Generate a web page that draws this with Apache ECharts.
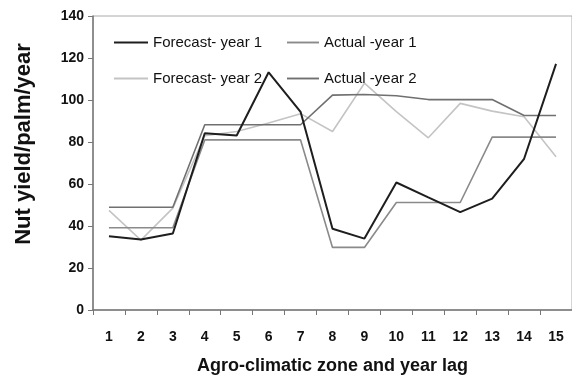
<!DOCTYPE html>
<html>
<head>
<meta charset="utf-8">
<script src="https://cdn.jsdelivr.net/npm/echarts@6/dist/echarts.min.js"></script>
<style>html,body{margin:0;padding:0;background:#fff}#c{width:572px;height:380px}</style>
</head>
<body>
<div id="c"></div>
<script>
var categories = ['1','2','3','4','5','6','7','8','9','10','11','12','13','14','15'];
var forecastYear1 = [35.1, 33.6, 36.4, 84.2, 83.1, 113.2, 94.4, 38.7, 34.0, 60.7, 53.6, 46.6, 53.0, 72.0, 117.2];
var actualYear1   = [39.2, 39.2, 39.2, 81.0, 81.0, 81.0, 81.0, 29.8, 29.8, 51.2, 51.2, 51.2, 82.3, 82.3, 82.3];
var forecastYear2 = [47.4, 33.3, 48.5, 83.0, 85.0, 89.0, 93.5, 85.0, 108.0, 94.5, 82.0, 98.4, 94.7, 92.0, 73.0];
var actualYear2   = [48.9, 48.9, 48.9, 88.2, 88.2, 88.2, 88.2, 102.3, 102.6, 102.0, 100.2, 100.2, 100.2, 92.6, 92.6];
var yTicks = [0, 20, 40, 60, 80, 100, 120, 140];
var names = ['Forecast- year 1', 'Actual -year 1', 'Forecast- year 2', 'Actual -year 2'];

var chart = echarts.init(document.getElementById('c'), null, {renderer: 'canvas'});
var font = 'Liberation Sans, Arial, sans-serif';
var legendText = {fontFamily: font, fontSize: 15, color: '#111'};
var lineIcon = 'path://M0,0L34,0L34,2L0,2Z';
chart.setOption({
  animation: false,
  backgroundColor: '#ffffff',
  grid: {left: 93, right: -4, top: 16, bottom: 65, show: true, borderColor: '#aaaaaa', borderWidth: 1, backgroundColor: '#ffffff'},
  legend: [
    {data: [names[0], names[2]], orient: 'vertical', left: 109, top: 30, itemWidth: 34, itemHeight: 2, itemGap: 21,
     icon: lineIcon, textStyle: legendText},
    {data: [names[1], names[3]], orient: 'vertical', left: 282, top: 30, itemWidth: 32, itemHeight: 2, itemGap: 21,
     icon: lineIcon, textStyle: legendText}
  ],
  xAxis: {
    type: 'category', data: categories, boundaryGap: true,
    name: 'Agro-climatic zone and year lag', nameLocation: 'middle', nameGap: 47,
    nameTextStyle: {fontFamily: font, fontSize: 18, fontWeight: 'bold', color: '#111'},
    axisLine: {lineStyle: {color: '#777', width: 1.5}},
    axisTick: {show: true, inside: false, length: 5, alignWithLabel: false, lineStyle: {color: '#777'}},
    axisLabel: {fontFamily: font, fontSize: 14, fontWeight: 'bold', color: '#111', margin: 20}
  },
  yAxis: {
    type: 'value', min: 0, max: 140, interval: 20,
    name: 'Nut yield/palm/year', nameLocation: 'middle', nameGap: 58,
    nameTextStyle: {fontFamily: font, fontSize: 22, fontWeight: 'bold', color: '#111', padding: [0, 0, 0, 38]},
    axisLine: {show: true, lineStyle: {color: '#777', width: 1.5}},
    axisTick: {show: true, inside: false, length: 5, lineStyle: {color: '#777'}},
    splitLine: {show: false},
    axisLabel: {fontFamily: font, fontSize: 14, fontWeight: 'bold', color: '#111', margin: 9,
      formatter: function (v) { return yTicks.indexOf(v) >= 0 ? String(v) : ''; }}
  },
  series: [
    {name: names[0], type: 'line', data: forecastYear1, showSymbol: false, symbol: 'none', z: 5,
     lineStyle: {color: '#1e1e1e', width: 2}, itemStyle: {color: '#1e1e1e'}},
    {name: names[1], type: 'line', data: actualYear1, showSymbol: false, symbol: 'none', z: 3,
     lineStyle: {color: '#8a8a8a', width: 1.6}, itemStyle: {color: '#8a8a8a'}},
    {name: names[2], type: 'line', data: forecastYear2, showSymbol: false, symbol: 'none', z: 2,
     lineStyle: {color: '#c4c4c4', width: 1.6}, itemStyle: {color: '#c4c4c4'}},
    {name: names[3], type: 'line', data: actualYear2, showSymbol: false, symbol: 'none', z: 4,
     lineStyle: {color: '#707070', width: 1.6}, itemStyle: {color: '#707070'}}
  ]
});
</script>
</body>
</html>
